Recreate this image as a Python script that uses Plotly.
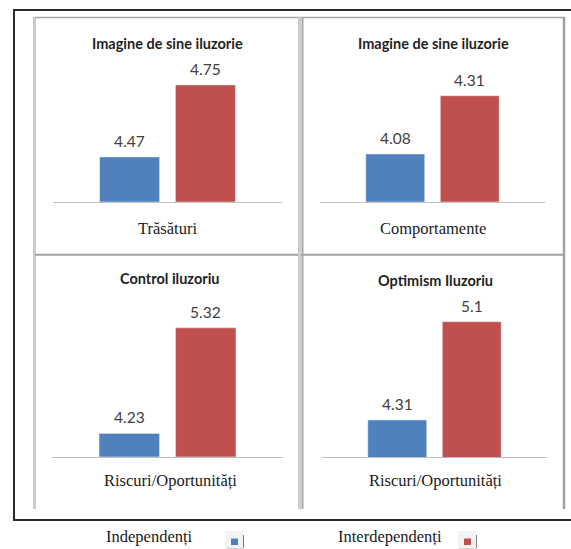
import plotly.graph_objects as go

W, H = 571, 549

# ---- data ----
panel_titles = ["Imagine de sine iluzorie", "Imagine de sine iluzorie",
                "Control iluzoriu", "Optimism Iluzoriu"]
panel_categories = ["Trăsături", "Comportamente",
                    "Riscuri/Oportunități", "Riscuri/Oportunități"]
series_names = ["Independenți", "Interdependenți"]
independenti = [4.47, 4.08, 4.23, 4.31]
interdependenti = [4.75, 4.31, 5.32, 5.1]

# ---- style / layout ----
series_colors = ["#4F81BD", "#C0504D"]
# pixel geometry of each panel: x-axis span, (plot top, baseline)
panel_x = [(53, 282), (320, 545), (52, 283), (322, 547)]
panel_y = [(60, 201.7), (60, 201.7), (300, 456.7), (300, 457.3)]
y_ranges = [(4.296, 4.847), (3.892, 4.451), (3.99, 5.607), (4.01, 5.2745)]
title_pos = [(167, 43), (433, 43), (170, 278), (435, 280)]
cat_pos = [(167, 228), (433, 228), (170, 480), (435, 480)]

TITLE_FONT = dict(family="Lato", size=14.5, color="#1f1f1f")
VALUE_FONT = dict(family="Lato", size=15.5, color="#404040")
SERIF_FONT = dict(family="Liberation Serif", size=16.5, color="#1a1a1a")
LEGEND_FONT = dict(family="Liberation Serif", size=16.5, color="#1a1a1a")


def fx(px):
    return px / W


def fy(py):
    return 1 - py / H


fig = go.Figure()
annotations = []
shapes = []
layout_axes = {}

series_values = [independenti, interdependenti]

for i in range(4):
    n = "" if i == 0 else str(i + 1)
    xa, ya = "x" + n, "y" + n
    for s, name in enumerate(series_names):
        v = series_values[s][i]
        fig.add_trace(go.Bar(
            x=[name], y=[v], xaxis=xa, yaxis=ya,
            marker=dict(color=series_colors[s]),
            width=0.79, showlegend=False, hoverinfo="skip",
        ))
        annotations.append(dict(
            x=name, y=v, xref=xa, yref=ya, text=f"{v:g}",
            showarrow=False, yanchor="middle", yshift=16, font=VALUE_FONT,
        ))
    layout_axes["xaxis" + n] = dict(
        domain=[fx(panel_x[i][0]), fx(panel_x[i][1])],
        anchor=ya, type="category", categoryorder="array",
        categoryarray=series_names, range=[-1.01, 2.01],
        showline=True, linecolor="#bfbfbf", linewidth=1,
        showticklabels=False, ticks="", showgrid=False, zeroline=False,
        fixedrange=True,
    )
    layout_axes["yaxis" + n] = dict(
        domain=[fy(panel_y[i][1]), fy(panel_y[i][0])],
        anchor=xa, range=list(y_ranges[i]), visible=False,
        showgrid=False, zeroline=False, fixedrange=True,
    )
    annotations.append(dict(
        x=fx(title_pos[i][0]), y=fy(title_pos[i][1]), xref="paper", yref="paper",
        text="<b>" + panel_titles[i] + "</b>", showarrow=False,
        xanchor="center", yanchor="middle", font=TITLE_FONT,
    ))
    annotations.append(dict(
        x=fx(cat_pos[i][0]), y=fy(cat_pos[i][1]), xref="paper", yref="paper",
        text=panel_categories[i], showarrow=False,
        xanchor="center", yanchor="middle", font=SERIF_FONT,
    ))


def line(x0, y0, x1, y1, color, width):
    shapes.append(dict(type="line", xref="paper", yref="paper",
                       x0=fx(x0), y0=fy(y0), x1=fx(x1), y1=fy(y1),
                       line=dict(color=color, width=width), layer="below"))


# outer frame (right edge runs past the page)
shapes.append(dict(type="rect", xref="paper", yref="paper",
                   x0=fx(14), y0=fy(520), x1=fx(590), y1=fy(10),
                   line=dict(color="#2a2a2a", width=2), layer="below"))

# panel borders
line(34.5, 17, 34.5, 509, "#cccccc", 3)
line(35, 17.5, 565, 17.5, "#a6a6a6", 1.5)
line(35, 254.8, 565, 254.8, "#a0a0a0", 2)
line(299.5, 17, 299.5, 509, "#cccccc", 3)
line(302.5, 17, 302.5, 509, "#a6a6a6", 2)
line(564, 17, 564, 509, "#a0a0a0", 2.5)

# legend below the panels: label followed by a small boxed swatch
legend_text_x = [149, 390]
legend_box_x = [225, 458]
for s, name in enumerate(series_names):
    annotations.append(dict(
        x=fx(legend_text_x[s]), y=fy(548), xref="paper", yref="paper",
        text=name, showarrow=False, xanchor="center", yanchor="bottom",
        font=LEGEND_FONT,
    ))
    bx = legend_box_x[s]
    shapes.append(dict(type="rect", xref="paper", yref="paper",
                       x0=fx(bx), y0=fy(548), x1=fx(bx + 18), y1=fy(531),
                       fillcolor="#f3f3f3", line=dict(width=0)))
    line(bx + 18, 535, bx + 18, 548, "#555555", 1.5)
    line(bx + 1, 547.5, bx + 18, 547.5, "#555555", 1.5)
    shapes.append(dict(type="rect", xref="paper", yref="paper",
                       x0=fx(bx + 6), y0=fy(545), x1=fx(bx + 13), y1=fy(538.5),
                       fillcolor=series_colors[s], line=dict(width=0)))

fig.update_layout(
    width=W, height=H, autosize=False,
    margin=dict(l=0, r=0, t=0, b=0),
    paper_bgcolor="white", plot_bgcolor="rgba(0,0,0,0)",
    barmode="overlay",
    annotations=annotations, shapes=shapes,
    showlegend=False,
    **layout_axes,
)

fig.write_html("out.html", config={"displayModeBar": False})
